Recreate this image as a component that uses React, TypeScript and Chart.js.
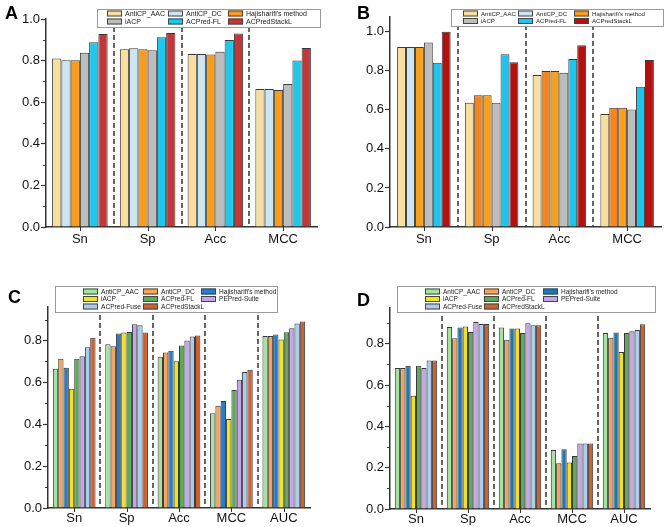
import React, { useEffect, useRef } from "react";
import { Chart, registerables } from "chart.js";

Chart.register(...registerables);

// ---------- DATA ----------
const categoriesAB = ["Sn", "Sp", "Acc", "MCC"];
const categoriesCD = ["Sn", "Sp", "Acc", "MCC", "AUC"];

const methodsAB = ["AntiCP_AAC", "AntiCP_DC", "Hajisharifi's method", "iACP", "ACPred-FL", "ACPredStackL"];
const methodsCD = ["AntiCP_AAC", "AntiCP_DC", "Hajisharifi's method", "iACP", "ACPred-FL", "PEPred-Suite", "ACPred-Fuse", "ACPredStackL"];

// Panel A
const aAntiCP_AAC = [0.810, 0.854, 0.832, 0.664];
const aAntiCP_DC = [0.802, 0.859, 0.832, 0.664];
const aHajisharifi = [0.802, 0.854, 0.829, 0.659];
const aIACP = [0.838, 0.850, 0.843, 0.688];
const aACPredFL = [0.888, 0.912, 0.899, 0.800];
const aACPredStackL = [0.928, 0.933, 0.930, 0.861];

// Panel B
const bAntiCP_AAC = [0.921, 0.636, 0.778, 0.578];
const bAntiCP_DC = [0.921, 0.675, 0.798, 0.610];
const bHajisharifi = [0.921, 0.675, 0.798, 0.610];
const bIACP = [0.944, 0.636, 0.790, 0.602];
const bACPredFL = [0.841, 0.884, 0.860, 0.718];
const bACPredStackL = [1.000, 0.844, 0.930, 0.855];

// Panel C
const cAntiCP_AAC = [0.665, 0.782, 0.722, 0.452, 0.821];
const cAntiCP_DC = [0.713, 0.773, 0.743, 0.488, 0.821];
const cHajisharifi = [0.670, 0.833, 0.751, 0.511, 0.829];
const cIACP = [0.569, 0.838, 0.701, 0.425, 0.805];
const cACPredFL = [0.713, 0.841, 0.776, 0.563, 0.840];
const cPEPredSuite = [0.725, 0.878, 0.800, 0.612, 0.859];
const cACPredFuse = [0.768, 0.873, 0.819, 0.650, 0.881];
const cACPredStackL = [0.813, 0.838, 0.824, 0.660, 0.891];

// Panel D
const dAntiCP_AAC = [0.682, 0.881, 0.878, 0.286, 0.852];
const dAntiCP_DC = [0.682, 0.826, 0.819, 0.221, 0.829];
const dHajisharifi = [0.693, 0.878, 0.874, 0.289, 0.855];
const dIACP = [0.548, 0.884, 0.874, 0.225, 0.760];
const dACPredFL = [0.693, 0.857, 0.852, 0.257, 0.852];
const dPEPredSuite = [0.682, 0.905, 0.899, 0.317, 0.860];
const dACPredFuse = [0.719, 0.895, 0.889, 0.317, 0.866];
const dACPredStackL = [0.719, 0.895, 0.889, 0.317, 0.894];

// Tick values
const yTicksAB = [0, 0.2, 0.4, 0.6, 0.8, 1.0];
const yTicksCD = [0, 0.2, 0.4, 0.6, 0.8];
const yMinorA = [0.1, 0.3, 0.5, 0.7, 0.9];
const yMinorB: number[] = [];
const yMinorCD = [0.1, 0.3, 0.5, 0.7, 0.9];

// ---------- STYLES ----------
const FONT = "'Liberation Sans', Arial, Helvetica, sans-serif";
const AXIS = "#333";

const colorsA = ["#F8DE9F", "#CBE5F1", "#F99C1C", "#BDBDBD", "#21C6EC", "#C1373A"];
const colorsB = ["#F8DE9F", ["#CBE5F1", "#F5841F", "#F5841F", "#F5841F"], "#F9A01B", "#BDBDBD", "#1EC4EE", "#B3110F"];
const colorsC = ["#A6E3A0", "#F3A45F", "#2B7CC8", "#F1E41B", "#5DAB5A", "#C2A6E6", "#A9CDEF", "#D0612F"];
const colorsD = ["#A6E3A0", "#F3A45F", "#1E77B0", "#F1E41B", "#5DAB5A", "#C2A6E6", "#A9CDEF", "#D0612F"];

function makeDatasets(labels: string[], series: number[][], colors: any[], catPct: number) {
  return series.map((data, i) => ({
    label: labels[i],
    data,
    backgroundColor: colors[i],
    borderColor: "#3a3a3a",
    borderWidth: 1,
    barPercentage: 1.0,
    categoryPercentage: catPct,
  }));
}

const decorPlugin = {
  id: "decor",
  afterDraw(chart: any, _args: any, opts: any) {
    const ctx = chart.ctx;
    const { left, top, bottom } = chart.chartArea;
    const xs = chart.scales.x;
    const ys = chart.scales.y;
    ctx.save();
    // minor y ticks
    ctx.strokeStyle = AXIS;
    ctx.lineWidth = 1;
    (opts.minor || []).forEach((v: number) => {
      const py = Math.round(ys.getPixelForValue(v)) + 0.5;
      ctx.beginPath();
      ctx.moveTo(left - 3, py);
      ctx.lineTo(left, py);
      ctx.stroke();
    });
    // x center ticks
    const n = chart.data.labels.length;
    for (let i = 0; i < n; i++) {
      const px = Math.round(xs.getPixelForValue(i)) + 0.5;
      ctx.beginPath();
      ctx.moveTo(px, bottom);
      ctx.lineTo(px, bottom + 4);
      ctx.stroke();
    }
    // dashed dividers
    ctx.setLineDash([5, 3]);
    ctx.lineWidth = 1.5;
    for (let i = 0; i < n - 1; i++) {
      const px = Math.round((xs.getPixelForValue(i) + xs.getPixelForValue(i + 1)) / 2);
      ctx.beginPath();
      ctx.moveTo(px, top);
      ctx.lineTo(px, bottom);
      ctx.stroke();
    }
    ctx.setLineDash([]);
    // legend
    const L = opts.legend;
    ctx.fillStyle = "#fff";
    ctx.fillRect(L.x, L.y, L.w, L.h);
    ctx.strokeStyle = "#9a9a9a";
    ctx.lineWidth = 1;
    ctx.strokeRect(L.x + 0.5, L.y + 0.5, L.w, L.h);
    ctx.font = `${L.font}px ${FONT}`;
    ctx.textBaseline = "middle";
    ctx.textAlign = "left";
    chart.data.datasets.forEach((ds: any, i: number) => {
      const col = i % L.cols;
      const row = Math.floor(i / L.cols);
      const sx = L.colX[col];
      const sy = L.rowY[row];
      const c = Array.isArray(ds.backgroundColor) ? ds.backgroundColor[0] : ds.backgroundColor;
      ctx.fillStyle = c;
      ctx.fillRect(sx, sy - 3, 15, 6);
      ctx.strokeStyle = "#444";
      ctx.strokeRect(sx + 0.5, sy - 3 + 0.5, 14, 5);
      ctx.fillStyle = "#222";
      ctx.fillText(ds.label, sx + 18, sy + 0.5);
    });
    ctx.restore();
  },
};

type PanelCfg = {
  letter: string;
  left: number;
  top: number;
  w: number;
  h: number;
  area: { l: number; r: number; t: number; b: number };
  yMax: number;
  yTicks: number[];
  yMinor: number[];
  xPad: number;
  categories: string[];
  datasets: any[];
  legend: any;
  letterPos: { x: number; y: number };
};

const panels: PanelCfg[] = [
  {
    letter: "A",
    left: 0, top: 0, w: 333, h: 262,
    area: { l: 46, r: 317, t: 19, b: 227 },
    yMax: 1.0, yTicks: yTicksAB, yMinor: yMinorA, xPad: 5,
    categories: categoriesAB,
    datasets: makeDatasets(methodsAB, [aAntiCP_AAC, aAntiCP_DC, aHajisharifi, aIACP, aACPredFL, aACPredStackL], colorsA, 0.82),
    legend: { x: 97, y: 9, w: 223, h: 18, cols: 3, colX: [107, 168, 228], rowY: [13.5, 21.5], font: 7 },
    letterPos: { x: 5, y: 4 },
  },
  {
    letter: "B",
    left: 333, top: 0, w: 333, h: 262,
    area: { l: 57, r: 328, t: 17, b: 227 },
    yMax: 1.075, yTicks: yTicksAB, yMinor: yMinorB, xPad: 5,
    categories: categoriesAB,
    datasets: makeDatasets(methodsAB, [bAntiCP_AAC, bAntiCP_DC, bHajisharifi, bIACP, bACPredFL, bACPredStackL], colorsB, 0.79),
    legend: { x: 118, y: 9, w: 212, h: 17, cols: 3, colX: [130, 185, 241], rowY: [13.5, 21], font: 6.1 },
    letterPos: { x: 24, y: 4 },
  },
  {
    letter: "C",
    left: 0, top: 262, w: 333, h: 265,
    area: { l: 48, r: 310, t: 45, b: 246 },
    yMax: 0.96, yTicks: yTicksCD, yMinor: yMinorCD, xPad: 3,
    categories: categoriesCD,
    datasets: makeDatasets(methodsCD, [cAntiCP_AAC, cAntiCP_DC, cHajisharifi, cIACP, cACPredFL, cPEPredSuite, cACPredFuse, cACPredStackL], colorsC, 0.815),
    legend: { x: 55, y: 24, w: 222, h: 26, cols: 3, colX: [83, 143, 201], rowY: [29.5, 37, 44.5], font: 6.6 },
    letterPos: { x: 8, y: 26 },
  },
  {
    letter: "D",
    left: 333, top: 262, w: 333, h: 265,
    area: { l: 57, r: 317, t: 46, b: 247 },
    yMax: 0.973, yTicks: yTicksCD, yMinor: yMinorCD, xPad: 3,
    categories: categoriesCD,
    datasets: makeDatasets(methodsCD, [dAntiCP_AAC, dAntiCP_DC, dHajisharifi, dIACP, dACPredFL, dPEPredSuite, dACPredFuse, dACPredStackL], colorsD, 0.815),
    legend: { x: 64, y: 24, w: 258, h: 26, cols: 3, colX: [92, 151, 210], rowY: [29.5, 37, 44.5], font: 6.5 },
    letterPos: { x: 24, y: 29 },
  },
];

function Panel({ cfg }: { cfg: PanelCfg }) {
  const ref = useRef<HTMLCanvasElement | null>(null);
  useEffect(() => {
    if (!ref.current) return;
    const { area, w, h } = cfg;
    const XH = h - area.b - 2;
    const chart = new Chart(ref.current, {
      type: "bar",
      data: { labels: cfg.categories, datasets: cfg.datasets },
      options: {
        responsive: false,
        animation: false,
        layout: { padding: { top: area.t, left: 0, right: w - area.r, bottom: 2 } },
        plugins: {
          legend: { display: false },
          tooltip: { enabled: false },
          decor: { minor: cfg.yMinor, legend: cfg.legend },
        } as any,
        scales: {
          x: {
            type: "category",
            offset: true,
            grid: { display: false, drawTicks: false },
            border: { display: true, color: AXIS, width: 1.5 },
            ticks: { font: { family: FONT, size: 13 }, color: "#111", padding: cfg.xPad, maxRotation: 0, autoSkip: false },
            afterFit: (s: any) => { s.height = XH; },
          },
          y: {
            min: 0,
            max: cfg.yMax,
            afterBuildTicks: (s: any) => { s.ticks = cfg.yTicks.map((v) => ({ value: v })); },
            grid: { display: true, drawOnChartArea: false, drawTicks: true, tickLength: 5, tickColor: AXIS, tickWidth: 1.2 },
            border: { display: true, color: AXIS, width: 1.5 },
            ticks: { font: { family: FONT, size: 13 }, color: "#111", padding: 1, callback: (v: any) => Number(v).toFixed(1) },
            afterFit: (s: any) => { s.width = area.l; },
          },
        },
      } as any,
      plugins: [decorPlugin],
    });
    return () => chart.destroy();
  }, [cfg]);
  return (
    <>
      <canvas
        ref={ref}
        width={cfg.w}
        height={cfg.h}
        style={{ position: "absolute", left: cfg.left, top: cfg.top, width: cfg.w, height: cfg.h, display: "block" }}
      />
      <div
        style={{
          position: "absolute",
          left: cfg.left + cfg.letterPos.x,
          top: cfg.top + cfg.letterPos.y,
          font: `bold 18px ${FONT}`,
          color: "#000",
          lineHeight: "18px",
        }}
      >
        {cfg.letter}
      </div>
    </>
  );
}

export default function App() {
  return (
    <div style={{ position: "absolute", left: 0, top: 0, width: 666, height: 527, background: "#fff", overflow: "hidden" }}>
      {panels.map((p) => (
        <Panel key={p.letter} cfg={p} />
      ))}
    </div>
  );
}
